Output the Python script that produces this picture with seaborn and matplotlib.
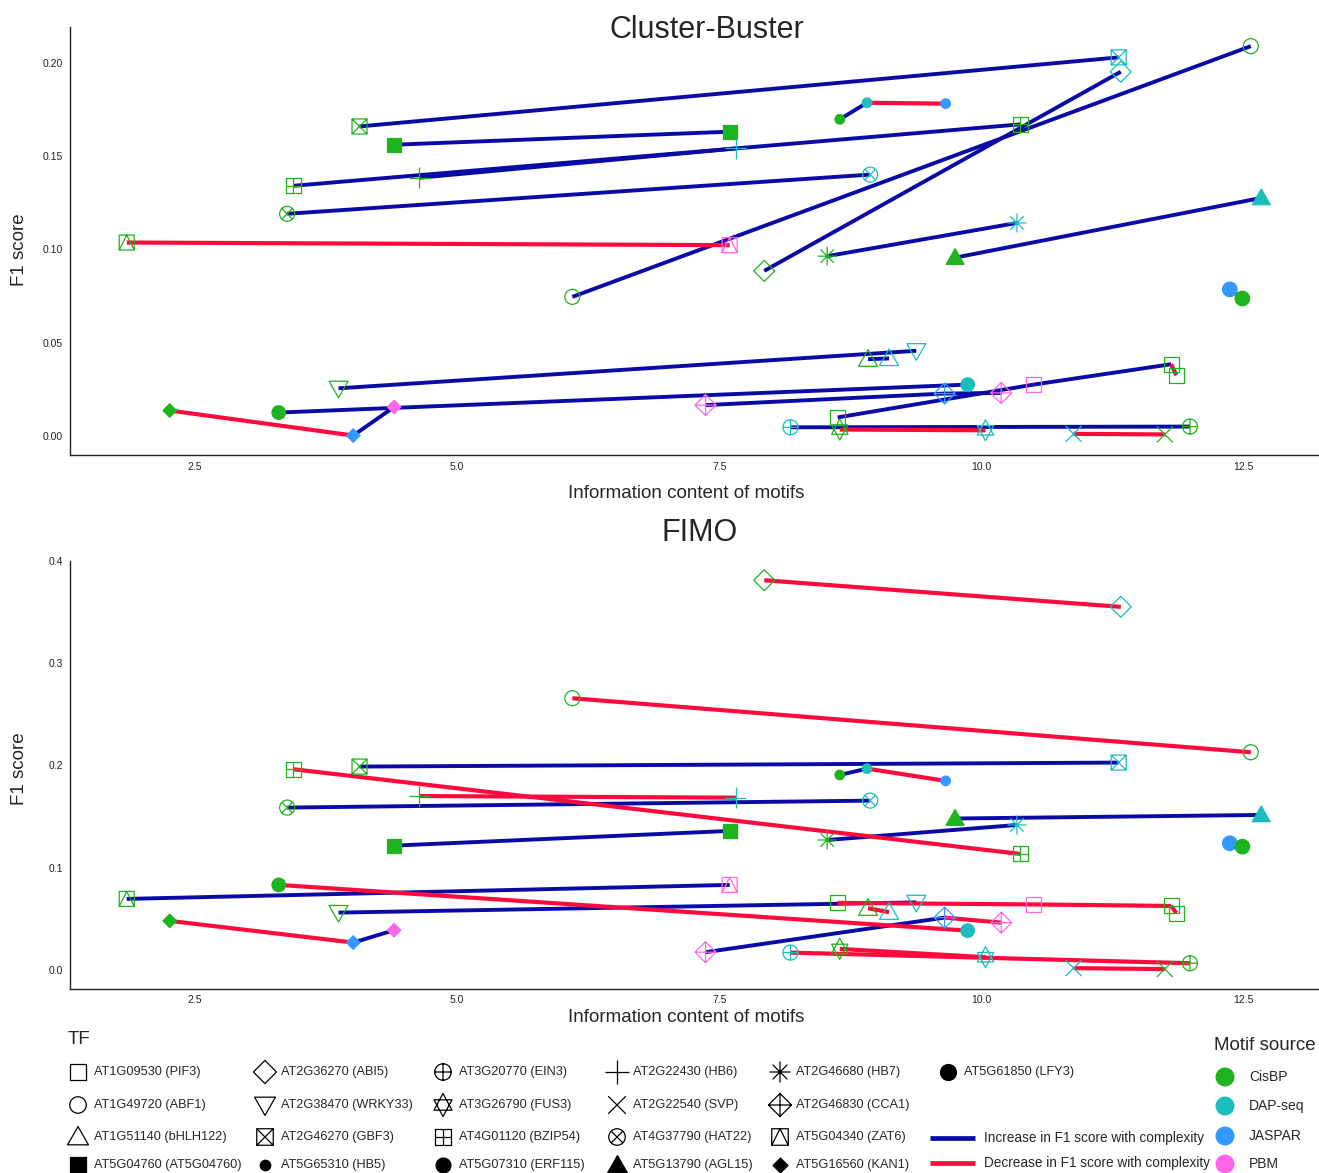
import numpy as np
import pandas as pd
import matplotlib
matplotlib.use("Agg")
import matplotlib.pyplot as plt
from matplotlib.path import Path
from matplotlib.ticker import FormatStrFormatter, FixedLocator
import seaborn as sns

# ------------------------------------------------------------------
# Data: one row per motif (TF, motif source, information content) with
# the F1 score obtained by each scanning tool.
# ------------------------------------------------------------------
tf_names = [
    "AT1G09530 (PIF3)", "AT1G49720 (ABF1)", "AT1G51140 (bHLH122)", "AT5G04760 (AT5G04760)",
    "AT2G36270 (ABI5)", "AT2G38470 (WRKY33)", "AT2G46270 (GBF3)", "AT5G65310 (HB5)",
    "AT3G20770 (EIN3)", "AT3G26790 (FUS3)", "AT4G01120 (BZIP54)", "AT5G07310 (ERF115)",
    "AT2G22430 (HB6)", "AT2G22540 (SVP)", "AT4G37790 (HAT22)", "AT5G13790 (AGL15)",
    "AT2G46680 (HB7)", "AT2G46830 (CCA1)", "AT5G04340 (ZAT6)", "AT5G16560 (KAN1)",
    "AT5G61850 (LFY3)",
]
source_names = ["CisBP", "DAP-seq", "JASPAR", "PBM"]

motif_tf = [0, 0, 0, 0, 1, 1, 2, 2, 3, 3, 4, 4, 5, 5, 6, 6, 7, 7, 7, 8, 8, 9, 9,
            10, 10, 11, 11, 12, 12, 13, 13, 14, 14, 15, 15, 16, 16, 17, 17, 17,
            18, 18, 19, 19, 19, 20, 20]
motif_source = [
    "CisBP", "PBM", "CisBP", "CisBP",          # PIF3
    "CisBP", "CisBP",                          # ABF1
    "CisBP", "DAP-seq",                        # bHLH122
    "CisBP", "CisBP",                          # AT5G04760
    "CisBP", "DAP-seq",                        # ABI5
    "CisBP", "DAP-seq",                        # WRKY33
    "CisBP", "DAP-seq",                        # GBF3
    "CisBP", "DAP-seq", "JASPAR",              # HB5
    "DAP-seq", "CisBP",                        # EIN3
    "CisBP", "DAP-seq",                        # FUS3
    "CisBP", "CisBP",                          # BZIP54
    "CisBP", "DAP-seq",                        # ERF115
    "CisBP", "DAP-seq",                        # HB6
    "DAP-seq", "CisBP",                        # SVP
    "CisBP", "DAP-seq",                        # HAT22
    "CisBP", "DAP-seq",                        # AGL15
    "CisBP", "DAP-seq",                        # HB7
    "PBM", "JASPAR", "PBM",                    # CCA1
    "CisBP", "PBM",                            # ZAT6
    "CisBP", "JASPAR", "PBM",                  # KAN1
    "JASPAR", "CisBP",                         # LFY3
]
motif_ic = [
    8.63, 10.50, 11.81, 11.86,
    6.10, 12.57,
    8.92, 9.12,
    4.40, 7.60,
    7.93, 11.33,
    3.87, 9.38,
    4.07, 11.31,
    8.65, 8.91, 9.66,
    8.18, 11.99,
    8.65, 10.04,
    3.44, 10.37,
    3.30, 9.87,
    4.64, 7.66,
    10.88, 11.75,
    3.38, 8.94,
    9.75, 12.67,
    8.53, 10.34,
    7.37, 9.65, 10.19,
    1.85, 7.60,
    2.26, 4.01, 4.40,
    12.37, 12.49,
]
f1_cluster_buster = [
    0.0099, 0.0275, 0.0384, 0.0325,
    0.0745, 0.2088,
    0.0411, 0.0415,
    0.1560, 0.1630,
    0.0884, 0.1951,
    0.0255, 0.0456,
    0.1658, 0.2028,
    0.1696, 0.1785, 0.1780,
    0.0046, 0.0050,
    0.0034, 0.0030,
    0.1340, 0.1669,
    0.0125, 0.0275,
    0.1383, 0.1540,
    0.0011, 0.0008,
    0.1190, 0.1400,
    0.0955, 0.1275,
    0.0963, 0.1141,
    0.0165, 0.0227, 0.0230,
    0.1036, 0.1022,
    0.0136, 0.0002, 0.0155,
    0.0785, 0.0736,
]
f1_fimo = [
    0.0655, 0.0640, 0.0625, 0.0555,
    0.2656, 0.2128,
    0.0603, 0.0564,
    0.1215, 0.1359,
    0.3810, 0.3550,
    0.0560, 0.0660,
    0.1988, 0.2027,
    0.1906, 0.1968, 0.1848,
    0.0169, 0.0065,
    0.0205, 0.0124,
    0.1962, 0.1134,
    0.0831, 0.0384,
    0.1700, 0.1684,
    0.0017, 0.0008,
    0.1587, 0.1655,
    0.1480, 0.1515,
    0.1270, 0.1417,
    0.0173, 0.0511, 0.0462,
    0.0694, 0.0831,
    0.0479, 0.0267, 0.0388,
    0.1238, 0.1205,
]

motifs = pd.DataFrame({
    "tf": motif_tf,
    "source": motif_source,
    "ic": motif_ic,
    "Cluster-Buster": f1_cluster_buster,
    "FIMO": f1_fimo,
})

# ------------------------------------------------------------------
# Styling
# ------------------------------------------------------------------
sns.set_style("white")
plt.rcParams["font.family"] = ["Liberation Sans", "DejaVu Sans"]
plt.rcParams["lines.solid_capstyle"] = "butt"

SOURCE_COLORS = {"CisBP": "#1DB41D", "DAP-seq": "#1BBDBD",
                 "JASPAR": "#3399FF", "PBM": "#FF66E6"}
UP_COLOR = "#0A0AA6"
DOWN_COLOR = "#FF0A3C"

# ------------------------------------------------------------------
# Marker glyphs (ggplot-like shapes 0-20)
# ------------------------------------------------------------------
MV, LN, CL = Path.MOVETO, Path.LINETO, Path.CLOSEPOLY


def poly(pts, close=True):
    verts = list(pts) + ([pts[0]] if close else [])
    codes = [MV] + [LN] * (len(pts) - 1) + ([CL] if close else [])
    return Path(verts, codes)


def seg(p, q):
    return Path([p, q], [MV, LN])


def combine(*paths):
    return Path.make_compound_path(*paths)


circle = Path.unit_circle()
square = poly([(-1, -1), (1, -1), (1, 1), (-1, 1)])
diamond = poly([(0, 1), (1, 0), (0, -1), (-1, 0)])
tri_up = poly([(-1, -0.75), (1, -0.75), (0, 1)])
tri_down = poly([(-1, 0.75), (1, 0.75), (0, -1)])
plus = combine(seg((0, -1), (0, 1)), seg((-1, 0), (1, 0)))
cross = combine(seg((-1, -1), (1, 1)), seg((-1, 1), (1, -1)))
d = 0.707
cross_in = combine(seg((-d, -d), (d, d)), seg((-d, d), (d, -d)))
asterisk = combine(plus, cross_in)
star = combine(poly([(-0.78, -0.45), (0.78, -0.45), (0, 1)]),
               poly([(-0.78, 0.45), (0.78, 0.45), (0, -1)]))
square_x = combine(square, cross)
square_plus = combine(square, plus)
square_tri = combine(square, poly([(-1, -1), (0, 1), (1, -1)], close=False))
circle_plus = combine(circle, plus)
circle_x = combine(circle, cross_in)
diamond_plus = combine(diamond, plus)

# (glyph, filled, extent in pixels) for each TF, in tf_names order
tf_glyphs = [
    (square, False, 15), (circle, False, 15), (tri_up, False, 19), (square, True, 14),
    (diamond, False, 21), (tri_down, False, 19), (square_x, False, 15), (circle, True, 9.5),
    (circle_plus, False, 15), (star, False, 21), (square_plus, False, 15), (circle, True, 13.5),
    (plus, False, 21), (cross, False, 16), (circle_x, False, 15), (tri_up, True, 18),
    (asterisk, False, 19), (diamond_plus, False, 21), (square_tri, False, 15), (diamond, True, 13.5),
    (circle, True, 14.5),
]


def area(px):
    return (px * 0.72) ** 2


# ------------------------------------------------------------------
# Figure layout (pixel geometry of a 1319 x 1173 canvas)
# ------------------------------------------------------------------
W, H = 1319, 1173
fig = plt.figure(figsize=(W / 100, H / 100), dpi=100)


def box(left, top, right, bottom):
    return [left / W, 1 - bottom / H, (right - left) / W, (bottom - top) / H]


ax_cb = fig.add_axes(box(70, 26.7, 1318, 455))
ax_fimo = fig.add_axes(box(70, 560.8, 1318, 988.5))

x_lo, x_hi = min(motif_ic), max(motif_ic)
x_pad = 0.05 * (x_hi - x_lo)


def draw_panel(ax, tool, yticks, yfmt, xlabel_y, ylabel_y, top_px, bottom_px):
    # segments between consecutive motifs of a TF, ordered by complexity
    rows = []
    for tf, grp in motifs.groupby("tf", sort=False):
        g = grp.sort_values("ic", kind="stable")
        xs, ys = g["ic"].to_numpy(), g[tool].to_numpy()
        for i in range(len(g) - 1):
            trend = "up" if ys[i + 1] > ys[i] else "down"
            sid = f"{tf}-{i}"
            rows.append((sid, trend, xs[i], ys[i]))
            rows.append((sid, trend, xs[i + 1], ys[i + 1]))
    segs = pd.DataFrame(rows, columns=["seg", "trend", "ic", "f1"])
    for trend, color, lw in [("up", UP_COLOR, 2.8), ("down", DOWN_COLOR, 3.0)]:
        sub = segs[segs["trend"] == trend]
        sns.lineplot(data=sub, x="ic", y="f1", units="seg", estimator=None,
                     sort=False, color=color, linewidth=lw, legend=False, ax=ax)

    # motif points
    for k, (glyph, filled, px) in enumerate(tf_glyphs):
        sub = motifs[motifs["tf"] == k]
        sns.scatterplot(data=sub, x="ic", y=tool, hue="source", palette=SOURCE_COLORS,
                        marker=glyph, s=area(px), linewidth=0.9, legend=False,
                        zorder=3, ax=ax)
        coll = ax.collections[-1]
        cols = coll.get_facecolors()
        coll.set_edgecolors(cols)
        if not filled:
            coll.set_facecolors("none")

    vals = motifs[tool]
    y_pad = 0.05 * (vals.max() - vals.min())
    ax.set_xlim(x_lo - x_pad, x_hi + x_pad)
    ax.set_ylim(vals.min() - y_pad, vals.max() + y_pad)

    ax.xaxis.set_major_locator(FixedLocator([2.5, 5.0, 7.5, 10.0, 12.5]))
    ax.xaxis.set_major_formatter(FormatStrFormatter("%.1f"))
    ax.yaxis.set_major_locator(FixedLocator(yticks))
    ax.yaxis.set_major_formatter(FormatStrFormatter(yfmt))
    ax.tick_params(axis="both", labelsize=7.5, length=3, width=0.8, pad=2,
                   color="#333333", labelcolor="#222222")
    sns.despine(ax=ax)
    for side in ("left", "bottom"):
        ax.spines[side].set_color("#222222")
        ax.spines[side].set_linewidth(1.0)

    height = bottom_px - top_px
    ax.set_xlabel("Information content of motifs", fontsize=13.5)
    ax.xaxis.set_label_coords((686 - 70) / 1248, -(xlabel_y - bottom_px) / height)
    ax.xaxis.label.set_va("center")
    ax.set_ylabel("F1 score", fontsize=13.5)
    ax.yaxis.set_label_coords((19 - 70) / 1248, (bottom_px - ylabel_y) / height)
    ax.yaxis.label.set_va("center")


draw_panel(ax_cb, "Cluster-Buster", [0.0, 0.05, 0.10, 0.15, 0.20], "%.2f",
           493, 250, 26.7, 455)
draw_panel(ax_fimo, "FIMO", [0.0, 0.1, 0.2, 0.3, 0.4], "%.1f",
           1018, 769, 560.8, 988.5)

# ------------------------------------------------------------------
# Titles and legends on a pixel-space overlay
# ------------------------------------------------------------------
ov = fig.add_axes([0, 0, 1, 1], zorder=5)
ov.set_xlim(0, W)
ov.set_ylim(H, 0)
ov.axis("off")
ov.patch.set_alpha(0)

ov.text(707, 30, "Cluster-Buster", ha="center", va="center", fontsize=22)
ov.text(700, 533, "FIMO", ha="center", va="center", fontsize=22)

# TF shape legend (column-major, 4 rows)
ov.text(68, 1040, "TF", ha="left", va="center", fontsize=13.5)
col_marker_x = [78, 265, 443, 617, 780, 948]
row_y = [1072, 1105, 1137, 1165]
for k, name in enumerate(tf_names):
    col, row = divmod(k, 4)
    glyph, filled, px = tf_glyphs[k]
    mx, my = col_marker_x[col], row_y[row]
    ov.scatter([mx], [my], marker=glyph, s=area(px * 1.1),
               facecolors="black" if filled else "none", edgecolors="black",
               linewidths=0.9)
    ov.text(mx + 16, my, name, ha="left", va="center", fontsize=9.2)

# motif source legend
ov.text(1214, 1045, "Motif source", ha="left", va="center", fontsize=13.5)
for i, src in enumerate(source_names):
    y = [1077, 1106, 1136, 1164][i]
    ov.scatter([1225], [y], marker="o", s=area(19), color=SOURCE_COLORS[src],
               edgecolors="none")
    ov.text(1249, y, src, ha="left", va="center", fontsize=10)

# trend line legend
for y, color, label in [(1138, UP_COLOR, "Increase in F1 score with complexity"),
                        (1163, DOWN_COLOR, "Decrease in F1 score with complexity")]:
    ov.plot([930, 975], [y, y], color=color, linewidth=3.4)
    ov.text(984, y, label, ha="left", va="center", fontsize=9.8)

fig.savefig("out.png", dpi=100)
